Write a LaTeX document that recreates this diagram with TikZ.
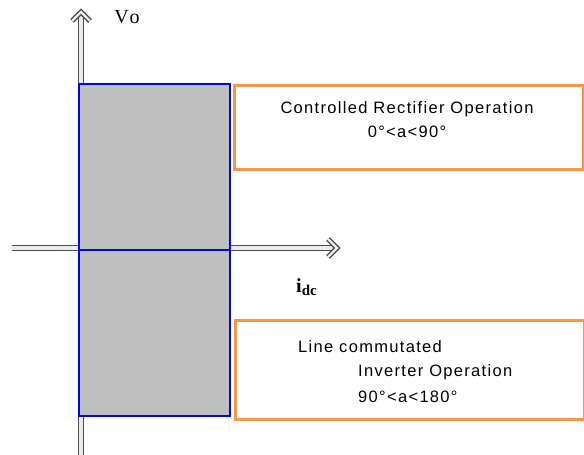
\documentclass[tikz,border=0pt]{standalone}
\usepackage{fontspec}
\setmainfont{Liberation Serif}
\newfontfamily\boxfont[LetterSpace=8]{Liberation Sans}
\usetikzlibrary{arrows.meta}
\definecolor{boxorange}{HTML}{F79646}
\definecolor{regiongray}{HTML}{BFBFBF}
\definecolor{regionblue}{RGB}{0,0,255}
\tikzset{
  axisline/.style={draw=black!70, double=black!8, double distance=3.6pt, line width=1.5pt},
  headline/.style={draw=black!70, double=black!8, double distance=2.4pt, line width=1.4pt, line join=miter, line cap=butt},
  region/.style={draw=regionblue, fill=regiongray, line width=1.8pt, inner sep=0pt, anchor=north west},
  opbox/.style={draw=boxorange, fill=white, line width=3pt, inner sep=0pt, anchor=north west, minimum width=349pt},
  boxtext/.style={font=\boxfont\fontsize{16.5}{25}\selectfont, inner sep=0pt},
  axislabel/.style={font=\fontsize{20}{22}\selectfont, inner sep=0pt}
}
\begin{document}
\begin{tikzpicture}[x=1pt,y=-1pt]
\useasboundingbox (0,0) rectangle (584,455);
% axes
\coordinate (vbot) at (81,460);
\coordinate (vtop) at (81,15);
\coordinate (vtip) at (81,12);
\coordinate (vtl) at (72,21);
\coordinate (vtr) at (90,21);
\coordinate (hleft) at (12,248);
\coordinate (hright) at (334,248);
\coordinate (htip) at (337,248);
\coordinate (hta) at (328,239);
\coordinate (htb) at (328,257);
\draw[axisline] (vbot) -- (vtop);
\draw[headline] (vtl) -- (vtip) -- (vtr);
\draw[axisline] (hleft) -- (hright);
\draw[headline] (hta) -- (htip) -- (htb);
% shaded region
\node[region, minimum width=151pt, minimum height=332pt] (reg) at (78,83) {};
\draw[regionblue, line width=1.8pt] (reg.west) -- (reg.east);
% labels
\node[axislabel] (vo) at (127,17) {V\kern1pt o};
\node[axislabel, anchor=west] (idc) at (296,287) {\textbf{i}\raisebox{-3pt}{\fontsize{15}{16}\selectfont\textbf{dc}}};
% top box
\node[opbox, minimum height=84pt] (topbox) at (233,84) {};
\node[boxtext] (t1) at (407,109) {Controlled Rectifier Operation};
\node[boxtext] (t2) at (407,132) {0°<a<90°};
% bottom box
\node[opbox, minimum height=99pt] (botbox) at (234,319) {};
\node[boxtext, anchor=west] (b1) at (298,347) {Line commutated};
\node[boxtext, anchor=west] (b2) at (358,372) {Inverter Operation};
\node[boxtext, anchor=west] (b3) at (358,397) {90°<a<180°};
\end{tikzpicture}
\end{document}
